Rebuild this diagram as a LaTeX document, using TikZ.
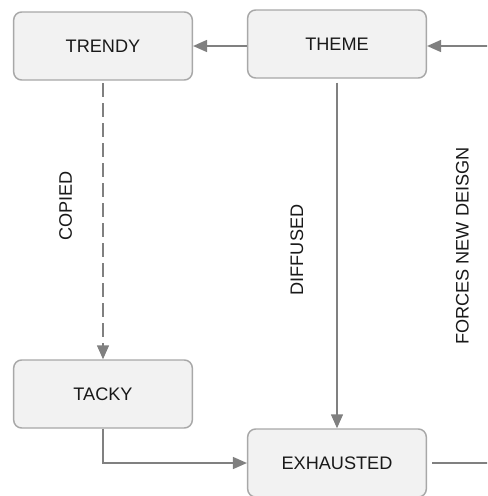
\documentclass[tikz,border=0pt]{standalone}
\usepackage{fontspec}
\setmainfont{Liberation Sans}
\usepackage{xcolor}
\usepackage{tikz}
\usetikzlibrary{arrows.meta}

\definecolor{boxfill}{HTML}{F2F2F2}
\definecolor{boxline}{HTML}{A8A8A8}
\definecolor{linkgray}{HTML}{808080}

\begin{document}
\begin{tikzpicture}[x=0.75pt, y=-0.75pt,
    >={Triangle[length=10.5pt, width=9pt]},
    state/.style={draw=boxline, fill=boxfill, line width=1.1pt, rounded corners=6pt,
        minimum width=134pt, minimum height=51pt, text=black!90,
        font=\fontsize{13.6}{16}\selectfont},
    link/.style={draw=linkgray, line width=1.1pt},
    lbl/.style={rotate=90, text=black!90, font=\fontsize{13.6}{16}\selectfont}]
    \clip (0,0) rectangle (487,496);

    % States
    \node[state] (trendy) at (103,46) {TRENDY};
    \node[state] (theme) at (337,44) {THEME};
    \node[state] (tacky) at (103,394) {TACKY};
    \node[state] (exhausted) at (337,463) {EXHAUSTED};

    % Loop ends outside the right edge
    \coordinate (themeIn) at (theme.east |- trendy.east);
    \coordinate (loopR) at (505,463);

    % Arrows
    \draw[link, ->] (theme.west |- trendy.east) -- (trendy.east);
    \draw[link, ->, dash pattern=on 10pt off 5pt, shorten <=2pt] (trendy) -- node[lbl, pos=0.45, yshift=28pt] {COPIED} (tacky);
    \draw[link, ->, shorten <=3pt] (theme) -- node[lbl, pos=0.49, yshift=30pt] {DIFFUSED} (exhausted);
    \draw[link, ->] (tacky) |- (exhausted);
    \draw[link, ->, shorten <=4pt] (exhausted) -- (loopR) |- node[lbl, pos=0.26, yshift=32pt] {FORCES NEW DEISGN} (themeIn);
\end{tikzpicture}
\end{document}
